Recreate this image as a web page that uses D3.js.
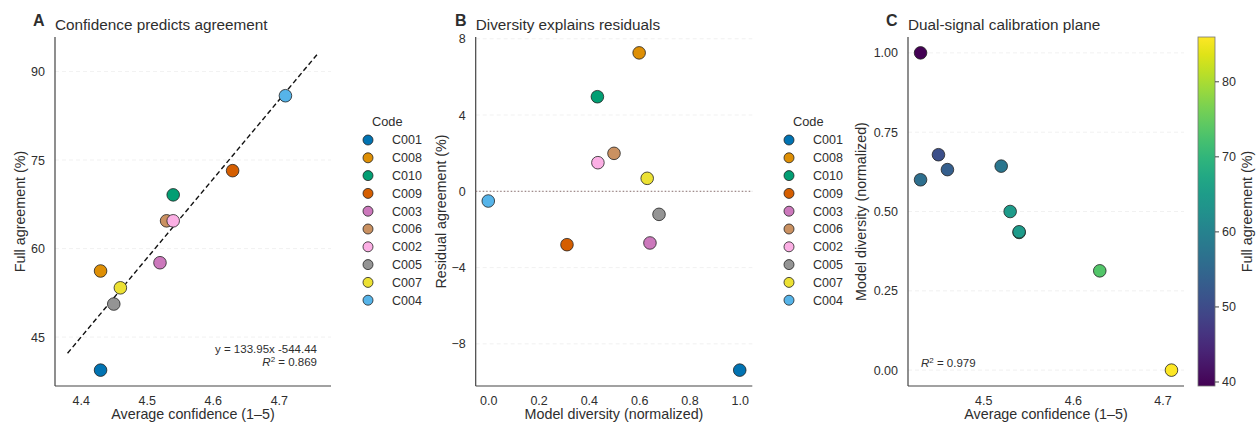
<!DOCTYPE html>
<html>
<head>
<meta charset="utf-8">
<script src="https://cdn.jsdelivr.net/npm/d3@7"></script>
<style>
  html, body { margin: 0; padding: 0; background: #fff; }
  svg { display: block; font-family: "Liberation Sans", Arial, sans-serif; }
</style>
</head>
<body>
<svg id="chart" width="1256" height="427"></svg>
<script>
// ---- Data ----
const codes      = ["C001", "C008", "C010", "C009", "C003", "C006", "C002", "C005", "C007", "C004"];
const colors     = ["#0173b2", "#de8f05", "#029e73", "#d55e00", "#cc78bc", "#ca9161", "#fbafe4", "#949494", "#ece133", "#56b4e9"];
const confidence = [4.43, 4.43, 4.54, 4.63, 4.52, 4.53, 4.54, 4.45, 4.46, 4.71];
const agreement  = [39.4, 56.2, 69.1, 73.2, 57.6, 64.7, 64.7, 50.6, 53.35, 85.9];
const diversity  = [1.0, 0.60, 0.434, 0.313, 0.643, 0.50, 0.436, 0.679, 0.632, 0.0];
const residual   = [-9.38, 7.26, 4.96, -2.80, -2.71, 1.99, 1.50, -1.21, 0.68, -0.51];
const fitSlope = 133.95, fitIntercept = -544.44, fitR2 = 0.869;
const fitX = [4.38, 4.76];
const planeR2 = 0.979;
const ticksA_x = [4.4, 4.5, 4.6, 4.7], ticksA_y = [45, 60, 75, 90];
const ticksB_x = [0, 0.2, 0.4, 0.6, 0.8, 1.0], ticksB_y = [-8, -4, 0, 4, 8];
const ticksC_x = [4.5, 4.6, 4.7], ticksC_y = [0, 0.25, 0.5, 0.75, 1.0];
const ticksCbar = [40, 50, 60, 70, 80];

const rows = codes.map((c, i) => ({code: c, color: colors[i], conf: confidence[i], agree: agreement[i], div: diversity[i], res: residual[i]}));

const svg = d3.select("#chart");
const TXT = "#2e2e2e";
const yTop = 37, yBot = 386;

function pad(ext) { const r = ext[1] - ext[0]; return [ext[0] - 0.05 * r, ext[1] + 0.05 * r]; }

function panel(opt) {
  const g = svg.append("g");
  const x = d3.scaleLinear().domain(opt.xdom).range([opt.x0, opt.x1]);
  const y = d3.scaleLinear().domain(opt.ydom).range([yBot, yTop]);
  // grid
  g.append("g").selectAll("line").data(opt.yt).join("line")
    .attr("x1", opt.x0).attr("x2", opt.x1)
    .attr("y1", d => y(d)).attr("y2", d => y(d))
    .attr("stroke", "#eeeeee").attr("stroke-width", 0.8).attr("stroke-dasharray", "4,3");
  // axes
  const ax = g.append("g").attr("transform", `translate(0,${yBot})`)
    .call(d3.axisBottom(x).tickValues(opt.xt).tickFormat(opt.xf).tickSize(0).tickPadding(10));
  const ay = g.append("g").attr("transform", `translate(${opt.x0},0)`)
    .call(d3.axisLeft(y).tickValues(opt.yt).tickFormat(opt.yf).tickSize(0).tickPadding(10));
  [ax, ay].forEach(a => {
    a.select(".domain").attr("stroke", "#444").attr("stroke-width", 1.2);
    a.selectAll("text").attr("font-size", 12.5).attr("fill", TXT).attr("font-family", "Liberation Sans, Arial, sans-serif");
  });
  ay.select(".domain").attr("d", `M0,${yBot}V${yTop}`);
  ax.select(".domain").attr("d", `M${opt.x0},0H${opt.x1}`);
  // labels
  g.append("text").attr("x", (opt.x0 + opt.x1) / 2).attr("y", 419)
    .attr("text-anchor", "middle").attr("font-size", 14.3).attr("fill", TXT).text(opt.xlabel);
  g.append("text").attr("transform", `translate(${opt.ylx},${(yTop + yBot) / 2}) rotate(-90)`)
    .attr("text-anchor", "middle").attr("font-size", 14.3).attr("fill", TXT).text(opt.ylabel);
  // title
  g.append("text").attr("x", opt.letterX).attr("y", 26).attr("font-size", 16).attr("font-weight", "bold").attr("fill", TXT).text(opt.letter);
  g.append("text").attr("x", opt.x0).attr("y", 30).attr("font-size", 15.3).attr("fill", TXT).text(opt.title);
  return {g, x, y};
}

function legend(x0) {
  const g = svg.append("g");
  g.append("text").attr("x", x0 + 4).attr("y", 126).attr("font-size", 12.8).attr("fill", TXT).text("Code");
  rows.forEach((r, i) => {
    const cy = 140 + i * 17.8;
    g.append("circle").attr("cx", x0).attr("cy", cy).attr("r", 5)
      .attr("fill", r.color).attr("stroke", "#222").attr("stroke-width", 0.8);
    g.append("text").attr("x", x0 + 24).attr("y", cy + 4.3).attr("font-size", 12.5).attr("fill", TXT).text(r.code);
  });
}

// ---- Panel A ----
const fitY = fitX.map(v => fitSlope * v + fitIntercept);
const A = panel({
  x0: 55, x1: 331,
  xdom: pad(d3.extent(confidence.concat(fitX))),
  ydom: pad(d3.extent(agreement.concat(fitY))),
  xt: ticksA_x, yt: ticksA_y, xf: d3.format(".1f"), yf: d3.format("d"),
  xlabel: "Average confidence (1–5)", ylabel: "Full agreement (%)", ylx: 25,
  letter: "A", letterX: 33, title: "Confidence predicts agreement"
});
A.g.append("line")
  .attr("x1", A.x(fitX[0])).attr("y1", A.y(fitY[0])).attr("x2", A.x(fitX[1])).attr("y2", A.y(fitY[1]))
  .attr("stroke", "#111").attr("stroke-width", 1.4).attr("stroke-dasharray", "5,3");
A.g.selectAll("circle.pt").data(rows).join("circle").attr("class", "pt")
  .attr("cx", d => A.x(d.conf)).attr("cy", d => A.y(d.agree)).attr("r", 6.3)
  .attr("fill", d => d.color).attr("stroke", "#222").attr("stroke-width", 0.8);
const annA = A.g.append("g").attr("font-size", 11.5).attr("fill", TXT).attr("text-anchor", "end");
annA.append("text").attr("x", 317).attr("y", 353).text(`y = ${fitSlope.toFixed(2)}x ${fitIntercept.toFixed(2)}`);
const r2A = annA.append("text").attr("x", 317).attr("y", 366);
r2A.append("tspan").attr("font-style", "italic").text("R");
r2A.append("tspan").attr("dy", -4).attr("font-size", 8).text("2");
r2A.append("tspan").attr("dy", 4).text(` = ${fitR2.toFixed(3)}`);
legend(368);

// ---- Panel B ----
const B = panel({
  x0: 475.7, x1: 752.3,
  xdom: pad(d3.extent(diversity)),
  ydom: pad(d3.extent(residual)),
  xt: ticksB_x, yt: ticksB_y, xf: d3.format(".1f"), yf: d => d < 0 ? "−" + Math.abs(d) : String(d),
  xlabel: "Model diversity (normalized)", ylabel: "Residual agreement (%)", ylx: 446,
  letter: "B", letterX: 455, title: "Diversity explains residuals"
});
B.g.append("line").attr("x1", 475.7).attr("x2", 752.3).attr("y1", B.y(0)).attr("y2", B.y(0))
  .attr("stroke", "#8a7070").attr("stroke-width", 1).attr("stroke-dasharray", "1.5,2");
B.g.selectAll("circle.pt").data(rows).join("circle").attr("class", "pt")
  .attr("cx", d => B.x(d.div)).attr("cy", d => B.y(d.res)).attr("r", 6.3)
  .attr("fill", d => d.color).attr("stroke", "#222").attr("stroke-width", 0.8);
legend(789);

// ---- Panel C ----
const C = panel({
  x0: 908, x1: 1184,
  xdom: pad(d3.extent(confidence)),
  ydom: pad(d3.extent(diversity)),
  xt: ticksC_x, yt: ticksC_y, xf: d3.format(".1f"), yf: d3.format(".2f"),
  xlabel: "Average confidence (1–5)", ylabel: "Model diversity (normalized)", ylx: 866,
  letter: "C", letterX: 886, title: "Dual-signal calibration plane"
});
const cdom = d3.extent(agreement);
const cscale = d3.scaleSequential(d3.interpolateViridis).domain(cdom);
C.g.selectAll("circle.pt").data(rows).join("circle").attr("class", "pt")
  .attr("cx", d => C.x(d.conf)).attr("cy", d => C.y(d.div)).attr("r", 6.3)
  .attr("fill", d => cscale(d.agree)).attr("stroke", "#222").attr("stroke-width", 0.8);
const r2C = C.g.append("text").attr("x", 921).attr("y", 366.5).attr("font-size", 11.5).attr("fill", TXT);
r2C.append("tspan").attr("font-style", "italic").text("R");
r2C.append("tspan").attr("dy", -4).attr("font-size", 8).text("2");
r2C.append("tspan").attr("dy", 4).text(` = ${planeR2.toFixed(3)}`);

// ---- Colorbar ----
const cb = svg.append("g");
const cbx0 = 1198, cbw = 17;
const defs = svg.append("defs");
const grad = defs.append("linearGradient").attr("id", "vir").attr("x1", 0).attr("y1", 1).attr("x2", 0).attr("y2", 0);
d3.range(0, 1.0001, 0.05).forEach(t => grad.append("stop").attr("offset", t).attr("stop-color", d3.interpolateViridis(t)));
cb.append("rect").attr("x", cbx0).attr("y", yTop).attr("width", cbw).attr("height", yBot - yTop)
  .attr("fill", "url(#vir)").attr("stroke", "#777").attr("stroke-width", 0.8);
const cbScale = d3.scaleLinear().domain(cdom).range([yBot, yTop]);
const cax = cb.append("g").attr("transform", `translate(${cbx0 + cbw},0)`)
  .call(d3.axisRight(cbScale).tickValues(ticksCbar).tickSize(4).tickPadding(3));
cax.select(".domain").remove();
cax.selectAll("line").attr("stroke", "#444");
cax.selectAll("text").attr("font-size", 12.5).attr("fill", TXT).attr("font-family", "Liberation Sans, Arial, sans-serif");
cb.append("text").attr("transform", `translate(1252,${(yTop + yBot) / 2}) rotate(-90)`)
  .attr("text-anchor", "middle").attr("font-size", 14.3).attr("fill", TXT).text("Full agreement (%)");
</script>
</body>
</html>
